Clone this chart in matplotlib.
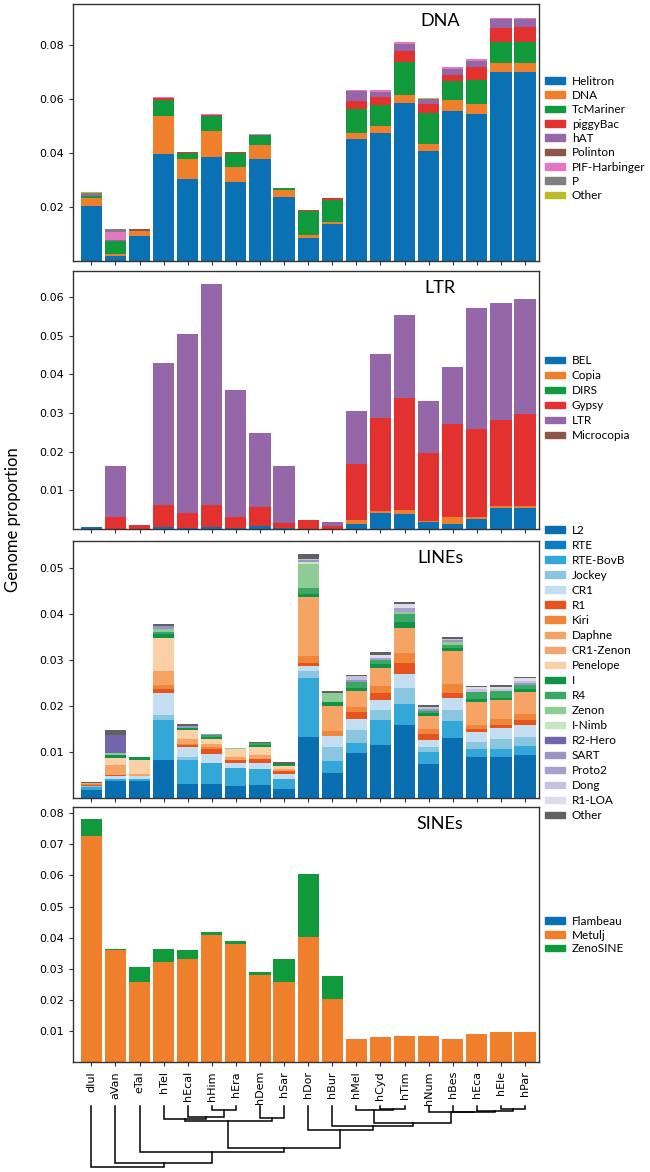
import matplotlib
matplotlib.use("Agg")
import matplotlib.pyplot as plt
from matplotlib.patches import Patch
import numpy as np

species = ["dIul", "aVan", "eTal", "hTel", "hEcal", "hHim", "hEra", "hDem", "hSar",
           "hDor", "hBur", "hMel", "hCyd", "hTim", "hNum", "hBes", "hEca", "hEle", "hPar"]

dna_names = ["Helitron", "DNA", "TcMariner", "piggyBac", "hAT", "Polinton",
             "PIF-Harbinger", "P", "Other"]
dna_colors = ["#0a72b4", "#ef7f2a", "#119a3c", "#e3312f", "#9566a8", "#8c564b",
              "#e377c2", "#7f7f7f", "#bcbd22"]
dna_helitron = [2.04, 0.17, 0.93, 3.98, 3.04, 3.87, 2.91, 3.77, 2.36, 0.84, 1.38, 4.51, 4.73, 5.84, 4.08, 5.57, 5.44, 6.99, 6.99]
dna_dna = [0.31, 0.08, 0.19, 1.39, 0.73, 0.93, 0.59, 0.54, 0.28, 0.12, 0.07, 0.22, 0.27, 0.31, 0.25, 0.39, 0.37, 0.33, 0.33]
dna_tcmariner = [0.05, 0.50, 0, 0.61, 0.22, 0.57, 0.49, 0.35, 0.08, 0.90, 0.82, 0.91, 0.79, 1.23, 1.14, 0.70, 0.90, 0.81, 0.81]
dna_piggybac = [0, 0, 0, 0.06, 0.05, 0.04, 0.05, 0, 0, 0.02, 0.06, 0.28, 0.27, 0.40, 0.34, 0.24, 0.47, 0.49, 0.52]
dna_hat = [0.08, 0.02, 0, 0, 0, 0, 0, 0, 0, 0, 0, 0.39, 0.21, 0.25, 0.20, 0.21, 0.22, 0.33, 0.30]
dna_polinton = [0.01, 0.01, 0.05, 0, 0, 0, 0, 0, 0, 0, 0, 0, 0, 0, 0, 0, 0, 0, 0]
dna_pif = [0, 0.30, 0, 0.02, 0, 0.03, 0, 0.03, 0, 0, 0, 0.03, 0.06, 0.09, 0, 0.07, 0.09, 0.05, 0.05]
dna_p = [0.03, 0.10, 0, 0, 0, 0, 0, 0, 0, 0, 0, 0, 0, 0, 0, 0, 0, 0, 0]
dna_other = [0.02, 0, 0.03, 0, 0, 0, 0, 0, 0, 0, 0, 0, 0, 0, 0.04, 0, 0, 0, 0]

ltr_names = ["BEL", "Copia", "DIRS", "Gypsy", "LTR", "Microcopia"]
ltr_colors = ["#0a72b4", "#ef7f2a", "#119a3c", "#e3312f", "#9566a8", "#8c564b"]
ltr_bel = [0.06, 0, 0, 0.04, 0.03, 0.04, 0.02, 0.07, 0.02, 0, 0, 0.12, 0.42, 0.40, 0.17, 0.12, 0.26, 0.55, 0.55]
ltr_copia = [0, 0, 0, 0, 0, 0, 0, 0, 0, 0, 0, 0.10, 0.05, 0.09, 0.03, 0.18, 0.06, 0.04, 0.04]
ltr_dirs = [0, 0, 0, 0, 0, 0, 0, 0, 0, 0, 0, 0, 0, 0, 0, 0, 0, 0, 0]
ltr_gypsy = [0, 0.30, 0.10, 0.57, 0.39, 0.57, 0.28, 0.49, 0.14, 0.24, 0.08, 1.45, 2.40, 2.90, 1.77, 2.42, 2.26, 2.22, 2.38]
ltr_ltr = [0, 1.34, 0, 3.67, 4.62, 5.72, 3.30, 1.91, 1.47, 0, 0.10, 1.37, 1.66, 2.15, 1.35, 1.46, 3.14, 3.02, 2.98]
ltr_microcopia = [0, 0, 0, 0, 0, 0, 0, 0, 0, 0, 0, 0, 0, 0, 0, 0, 0, 0, 0]

line_names = ["L2", "RTE", "RTE-BovB", "Jockey", "CR1", "R1", "Kiri", "Daphne", "CR1-Zenon",
              "Penelope", "I", "R4", "Zenon", "I-Nimb", "R2-Hero", "SART", "Proto2", "Dong",
              "R1-LOA", "Other"]
line_colors = ["#0a6fb0", "#0b7dc2", "#33a7d8", "#8ac6e0", "#c3def0", "#e6531f", "#f0863a",
               "#f5a466", "#f3a76e", "#fbd0a6", "#0f9447", "#3aa865", "#8dcd95", "#c5e6c3",
               "#7265ae", "#9b95c6", "#a79fcf", "#c4c2df", "#dcdcec", "#616161"]
line_l2 = [0.18, 0.36, 0.36, 0.83, 0.31, 0.31, 0.25, 0.28, 0.20, 1.33, 0.55, 0.98, 1.14, 1.59, 0.73, 1.31, 0.90, 0.89, 0.93]
line_rte = [0, 0, 0, 0, 0, 0, 0, 0, 0, 0, 0, 0, 0, 0, 0, 0, 0, 0, 0]
line_bovb = [0.05, 0.06, 0.05, 0.86, 0.52, 0.46, 0.40, 0.36, 0.22, 1.28, 0.25, 0.22, 0.55, 0.45, 0.27, 0.36, 0.17, 0.18, 0.20]
line_jockey = [0.02, 0, 0, 0.11, 0.06, 0, 0, 0, 0, 0.15, 0.31, 0.27, 0.22, 0.35, 0.11, 0.24, 0.15, 0.22, 0.20]
line_cr1 = [0.02, 0.06, 0.07, 0.47, 0.22, 0.19, 0.12, 0.13, 0.11, 0.11, 0.24, 0.25, 0.21, 0.30, 0.16, 0.26, 0.21, 0.22, 0.26]
line_r1 = [0.01, 0.03, 0, 0.09, 0.03, 0.10, 0.05, 0.08, 0.05, 0.07, 0, 0.15, 0.16, 0.24, 0.11, 0.10, 0.06, 0.08, 0.10]
line_kiri = [0.02, 0, 0, 0.10, 0.04, 0.04, 0, 0, 0, 0.14, 0.11, 0.11, 0.15, 0.21, 0.11, 0.20, 0.10, 0.13, 0.14]
line_daphne = [0.02, 0.20, 0.05, 0.30, 0.11, 0.08, 0.07, 0.08, 0.06, 1.27, 0.53, 0.35, 0.40, 0.56, 0.29, 0.72, 0.50, 0.40, 0.47]
line_cr1zenon = [0, 0, 0, 0, 0, 0, 0, 0, 0, 0.02, 0, 0, 0, 0, 0, 0, 0, 0, 0]
line_penelope = [0.01, 0.15, 0.30, 0.72, 0.18, 0.11, 0.17, 0.18, 0.06, 0, 0, 0, 0, 0, 0, 0, 0, 0, 0]
line_i = [0, 0.08, 0.07, 0.09, 0.04, 0.04, 0, 0.05, 0.04, 0.07, 0.10, 0.06, 0.08, 0.13, 0.07, 0.07, 0.07, 0.06, 0.06]
line_r4 = [0, 0, 0, 0.04, 0.02, 0.03, 0, 0.03, 0, 0.13, 0, 0.13, 0.08, 0.16, 0.04, 0.07, 0.14, 0.14, 0.09]
line_zenon = [0, 0.04, 0, 0.07, 0, 0, 0.02, 0, 0, 0.50, 0.20, 0, 0, 0.04, 0, 0.06, 0, 0, 0]
line_inimb = [0, 0, 0, 0, 0, 0, 0, 0, 0, 0.05, 0, 0, 0, 0, 0, 0, 0, 0, 0]
line_r2hero = [0, 0.38, 0, 0, 0, 0, 0, 0, 0, 0, 0, 0, 0, 0, 0, 0, 0, 0, 0]
line_sart = [0, 0, 0, 0.06, 0.04, 0.02, 0, 0, 0, 0.04, 0, 0.04, 0, 0, 0.04, 0.03, 0, 0, 0.04]
line_proto2 = [0, 0, 0, 0, 0, 0, 0, 0, 0, 0, 0, 0, 0.05, 0.09, 0, 0, 0, 0, 0]
line_dong = [0, 0, 0, 0, 0, 0, 0, 0.01, 0, 0.04, 0, 0.09, 0, 0, 0.04, 0.04, 0.06, 0.05, 0.06]
line_r1loa = [0, 0, 0, 0, 0, 0, 0.01, 0, 0, 0, 0, 0, 0.07, 0.09, 0, 0, 0.05, 0.05, 0.05]
line_other = [0.02, 0.12, 0, 0.03, 0.03, 0.02, 0, 0.02, 0.04, 0.09, 0.03, 0.03, 0.05, 0.05, 0.04, 0.03, 0.03, 0.04, 0.03]

sine_names = ["Flambeau", "Metulj", "ZenoSINE"]
sine_colors = ["#0a72b4", "#ef7f2a", "#119a3c"]
sine_flambeau = [0, 0, 0, 0, 0, 0, 0, 0, 0, 0, 0, 0, 0, 0, 0, 0, 0, 0, 0]
sine_metulj = [7.28, 3.60, 2.58, 3.23, 3.30, 4.08, 3.79, 2.79, 2.57, 4.03, 2.03, 0.74, 0.80, 0.84, 0.85, 0.74, 0.91, 0.98, 0.95]
sine_zenosine = [0.54, 0.03, 0.49, 0.39, 0.29, 0.10, 0.10, 0.11, 0.74, 2.03, 0.75, 0, 0, 0, 0, 0, 0, 0, 0]

# dendrogram merges: (child, child, height); "cN" refers to the N-th merge
dendro = [
    ("hCyd", "hTim", 9), ("hEle", "hPar", 10), ("hHim", "hEra", 12), ("hMel", "c0", 12),
    ("hEca", "c1", 14), ("hBes", "c4", 17), ("hNum", "c5", 19), ("hEcal", "c2", 34),
    ("hDem", "hSar", 37), ("hTel", "c7", 40), ("c9", "c8", 44), ("c3", "c6", 50),
    ("hBur", "c11", 60), ("hDor", "c12", 70), ("c10", "c13", 124), ("eTal", "c14", 137),
    ("aVan", "c15", 170), ("dIul", "c16", 182),
]

W, H = 650, 1172
TXT = "Lato"


def box(l, t, r, b):
    return [l / W, 1 - b / H, (r - l) / W, (b - t) / H]


def stacked(ax, series, colors, names, title, ylim, yticks, leg_y, spacing=0.28):
    x = np.arange(len(species))
    bottom = np.zeros(len(species))
    for vals, c, n in zip(series, colors, names):
        v = np.array(vals) / 100.0
        ax.bar(x, v, 0.88, bottom=bottom, color=c, linewidth=0, label=n)
        bottom += v
    ax.set_xlim(-0.76, 18.58)
    ax.set_ylim(*ylim)
    ax.set_yticks(yticks)
    ax.set_yticklabels(["%.2f" % t for t in yticks])
    ax.set_xticks(x)
    ax.set_xticklabels([])
    ax.tick_params(length=3, width=0.8, labelsize=8, color="#333333")
    for s in ax.spines.values():
        s.set_color("#333333")
        s.set_linewidth(1)
    ax.text(0.788, 0.935, title, transform=ax.transAxes, ha="center", va="center",
            fontsize=13, family=TXT)
    handles = [Patch(color=c, label=n) for c, n in zip(colors, names)]
    ax.legend(handles=handles, loc="center left", bbox_to_anchor=(1.012, leg_y),
              frameon=False, prop={"family": TXT, "size": 8.5}, handlelength=1.7,
              handleheight=0.5, handletextpad=0.6, labelspacing=spacing,
              borderaxespad=0, borderpad=0)


fig = plt.figure(figsize=(W / 100, H / 100), dpi=100)

ax1 = fig.add_axes(box(73, 4, 539, 261))
stacked(ax1, [dna_helitron, dna_dna, dna_tcmariner, dna_piggybac, dna_hat, dna_polinton,
              dna_pif, dna_p, dna_other], dna_colors, dna_names, "DNA",
        (0, 0.0952), [0.02, 0.04, 0.06, 0.08], 0.477)

ax2 = fig.add_axes(box(73, 271, 539, 529))
stacked(ax2, [ltr_bel, ltr_copia, ltr_dirs, ltr_gypsy, ltr_ltr, ltr_microcopia],
        ltr_colors, ltr_names, "LTR", (0, 0.0667),
        [0.01, 0.02, 0.03, 0.04, 0.05, 0.06], 0.507, spacing=0.34)

ax3 = fig.add_axes(box(73, 541, 539, 798))
stacked(ax3, [line_l2, line_rte, line_bovb, line_jockey, line_cr1, line_r1, line_kiri,
              line_daphne, line_cr1zenon, line_penelope, line_i, line_r4, line_zenon,
              line_inimb, line_r2hero, line_sart, line_proto2, line_dong, line_r1loa,
              line_other], line_colors, line_names, "LINEs", (0, 0.0558),
        [0.01, 0.02, 0.03, 0.04, 0.05], 0.486, spacing=0.34)

ax4 = fig.add_axes(box(73, 807, 539, 1062))
stacked(ax4, [sine_flambeau, sine_metulj, sine_zenosine], sine_colors, sine_names,
        "SINEs", (0, 0.082), [0.01, 0.02, 0.03, 0.04, 0.05, 0.06, 0.07, 0.08], 0.498,
        spacing=0.22)
ax4.set_xticklabels(species, rotation=90, fontsize=8)

fig.text(13 / W, 1 - 520 / H, "Genome proportion", rotation=90, ha="center",
         va="center", fontsize=12, family=TXT)

# dendrogram
axd = fig.add_axes(box(73, 1106, 539, 1168))
pos = {n: i for i, n in enumerate(species)}
hgt = {n: 0 for n in species}
for k, (a, b, h) in enumerate(dendro):
    xa, xb = pos[a], pos[b]
    axd.plot([xa, xa, xb, xb], [hgt[a], h, h, hgt[b]], color="black", lw=1.1,
             solid_joinstyle="miter", clip_on=False)
    pos["c%d" % k] = (xa + xb) / 2
    hgt["c%d" % k] = h
axd.set_xlim(-0.76, 18.58)
axd.set_ylim(184, 0)
axd.axis("off")

fig.savefig("out.png", dpi=100)
